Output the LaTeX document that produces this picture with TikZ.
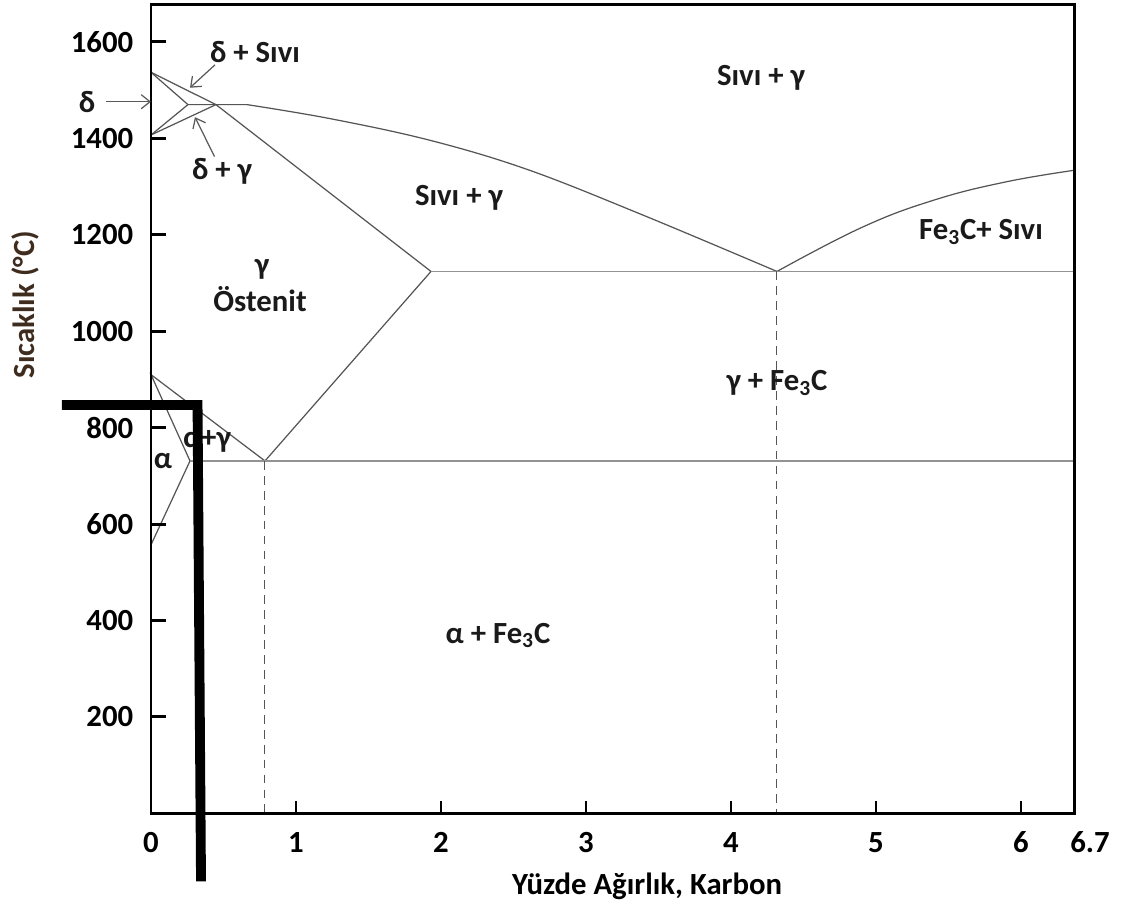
\documentclass[tikz,border=0pt]{standalone}
\usepackage{fontspec}
\setmainfont{Carlito}
\usepackage{tikz}
\usetikzlibrary{arrows.meta,positioning}
\definecolor{phaseline}{HTML}{555555}
\definecolor{labelink}{HTML}{1A1A1A}
\definecolor{titleink}{HTML}{3E2C1E}
\tikzset{
    phase line/.style={draw=phaseline,line width=0.7pt},
    iso line/.style={draw=gray!85,line width=1pt},
    drop line/.style={draw=phaseline,line width=0.6pt,dash pattern=on 5pt off 3.5pt},
    frame line/.style={draw=black,line width=1.7pt},
    region label/.style={
        font=\fontsize{17.5}{20}\selectfont\bfseries,
        text=labelink,inner sep=1pt,align=center
    },
    tick label/.style={font=\fontsize{17.5}{20}\selectfont\bfseries,inner sep=0pt},
    pointer/.style={draw=gray!70!black,line width=0.7pt,->},
    >={Straight Barb[length=5pt,width=8pt]}
}
\begin{document}
\begin{tikzpicture}[x=2.9cm,y=0.00965cm]
\useasboundingbox (-1.0414,-199) rectangle (6.738,1687);
% key points of the diagram
\coordinate (origin) at (0,0);
\coordinate (deltaTop) at (0,1537);
\coordinate (deltaBot) at (0,1407);
\coordinate (periL) at (0.255,1470);
\coordinate (periR) at (0.448,1470);
\coordinate (gammaMax) at (1.931,1124);
\coordinate (eutectic) at (4.317,1124);
\coordinate (eutectoid) at (0.786,731);
\coordinate (alphaMax) at (0.269,731);
\coordinate (a3Top) at (0,910);
\coordinate (alphaBot) at (0,557);
\coordinate (rightIso) at (6.372,1124);
\coordinate (rightEut) at (6.372,731);

% phase boundaries
\draw[phase line] (deltaTop) -- (periL) -- (deltaBot);
\draw[phase line] (deltaTop) -- (periR) -- (deltaBot);
\draw[phase line] (periL) -- (periR) -- (gammaMax) -- (eutectoid) -- (a3Top) -- (alphaMax) -- (alphaBot);
\draw[phase line] (periR) -- (0.662,1470)
    plot[smooth,tension=0.6] coordinates {(0.662,1470) (1.234,1441) (1.924,1396) (2.6,1335) (3.4,1240) (4.317,1124)};
\draw[phase line] plot[smooth,tension=0.7] coordinates {(4.317,1124) (4.9,1215) (5.4,1272) (5.9,1310) (6.372,1334)};
\draw[iso line] (gammaMax) -- (rightIso);
\draw[iso line] (alphaMax) -- (rightEut);
\draw[drop line] (eutectoid) -- (eutectoid |- origin);
\draw[drop line] (eutectic) -- (eutectic |- origin);

% frame and ticks
\draw[frame line] (0,1677) -- (origin) -- (6.372,0) -- (6.372,1677) -- cycle;
\foreach \t in {200,400,...,1600} {
    \draw[frame line] (0,\t) -- (0.1,\t);
    \node[tick label,anchor=east] (ylab_\t) at (-0.12,\t) {\t};
}
\foreach \c in {1,...,6}
    \draw[frame line] (\c,0) -- (\c,25);
\foreach \c in {0,...,6}
    \node[tick label] (xlab_\c) at (\c,-60) {\c};
\node[tick label] (xlab_end) at (6.476,-60) {6.7};
\node[tick label,text=titleink,rotate=90] (ytitle) at (-0.869,1055) {Sıcaklık (°C)};
\node[tick label] (xtitle) at (3.421,-151) {Yüzde Ağırlık, Karbon};

% regions
\node[region label] (liqTop) at (4.207,1525) {Sıvı + γ};
\node[region label] (liqGamma) at (2.124,1277) {Sıvı + γ};
\node[region label] (gammaLab) at (0.766,1128) {γ};
\node[region label] (ostenit) at (0.752,1067) {Östenit};
\node[region label] (cemLiqLab) at (5.724,1206) {Fe\textsubscript{3}C+ Sıvı};
\node[region label] (gammaCem) at (4.317,893) {γ + Fe\textsubscript{3}C};
\node[region label] (alphaLab) at (0.083,730) {α};
\node[region label] (alphaGamma) at (0.386,772) {α+γ};
\node[region label] (alphaCem) at (2.393,369) {α + Fe\textsubscript{3}C};

% pointers to the small delta regions
\coordinate (deltaTip) at (0,1476);
\coordinate (dsTip) at (0.269,1505);
\coordinate (dgTip) at (0.303,1444);
\node[region label] (deltaLab) at (-0.441,1476) {δ};
\node[region label] (dsLab) at (0.717,1579) {δ + Sıvı};
\node[region label] (dgLab) at (0.49,1331) {δ + γ};
\draw[pointer] ([xshift=5pt]deltaLab.east) -- (deltaTip);
\draw[pointer] ([xshift=4pt]dsLab.south west) -- (dsTip);
\draw[pointer] (dgLab) -- (dgTip);

% marker line on top
\coordinate (barStart) at (-0.614,847);
\coordinate (barCorner) at (0.321,847);
\coordinate (barEnd) at (0.345,-141);
\draw[line width=5.6pt,line join=miter] (barStart) -- (barCorner) -- (barEnd);
\end{tikzpicture}
\end{document}
